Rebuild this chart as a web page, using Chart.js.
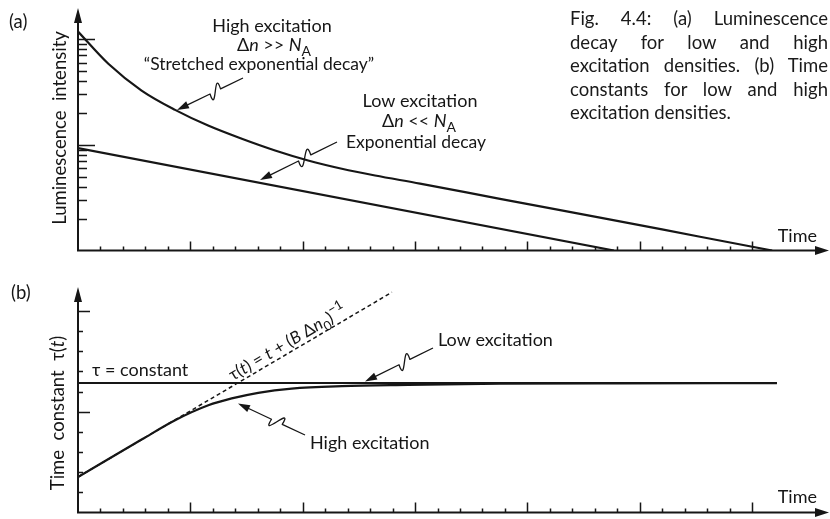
<!DOCTYPE html>
<html>
<head>
<meta charset="utf-8">
<script src="https://cdn.jsdelivr.net/npm/chart.js@4.4.1/dist/chart.umd.min.js"></script>
<style>
  html, body { margin: 0; padding: 0; background: #fff; }
  #fig { position: relative; width: 830px; height: 519px; overflow: hidden;
         font-family: Lato, "Open Sans", "DejaVu Sans", sans-serif; color: #1a1a1a; }
  #panelA { position: absolute; left: 0; top: 0; }
  #panelB { position: absolute; left: 0; top: 260px; }
  #caption { position: absolute; left: 570px; top: 7px; width: 258px;
             font-size: 18.5px; line-height: 23.5px; }
  #caption div { text-align: justify; text-align-last: justify; white-space: nowrap; }
  #caption div.last { text-align-last: left; }
</style>
</head>
<body>
<div id="fig">
  <canvas id="panelA" width="830" height="260"></canvas>
  <canvas id="panelB" width="830" height="259"></canvas>
  <div id="caption">
    <div>Fig. 4.4: (a) Luminescence</div>
    <div>decay for low and high</div>
    <div>excitation densities. (b) Time</div>
    <div>constants for low and high</div>
    <div class="last">excitation densities.</div>
  </div>
</div>
<script>
// ---- time axis (shared by both panels) ----
const timeTicks = [1, 2, 3, 4, 5, 6, 7, 8, 9, 10, 11, 12, 13, 14, 15,
                   16, 17, 18, 19, 20, 21, 22, 23, 24, 25, 26, 27, 28, 29, 30];
const timeMajorTicks = [5, 10, 15, 20, 25, 30];
const timeMax = 33.42;

// ---- (a) luminescence intensity, log axis ----
const intensityTicks = [2, 3, 4, 5, 6, 7, 8, 9, 10, 20, 30, 40, 50, 60, 70, 80, 90, 100];
const intensityMajorTicks = [10, 100];
const intensityMin = 1;
const intensityMax = 197;

const highExcTime      = [0, 1.35, 2.83, 4.32, 5.79, 7.29, 8.77, 10.24, 11.74, 13.22, 15.22, 18.78, 23.23, 27.68, 30.89];
const highExcIntensity = [118, 58.4, 32.6, 21.4, 15.2, 11.4, 8.83, 7.10, 5.93, 5.12, 4.3, 3.08, 2.05, 1.35, 1.0];

const lowExcTime      = [0, 23.85];
const lowExcIntensity = [9.3, 1.0];

// ---- (b) time constant, linear axis ----
const tauTicks = [1, 2, 3, 4, 5, 6, 7, 8, 9, 10];
const tauMajorTicks = [5, 10];
const tauMax = 11.19;

const tauHighTime  = [0, 2.83, 4.32, 5.80, 6.84, 8.02, 9.51, 11.74, 14.69, 18.8, 24.0, 31.1];
const tauHighValue = [1.76, 3.62, 4.58, 5.32, 5.66, 5.94, 6.15, 6.27, 6.33, 6.39, 6.41, 6.42];

const tauConstTime  = [0, 31.1];
const tauConstValue = [6.42, 6.42];

const tauLinearTime  = [0, 13.97];
const tauLinearValue = [1.76, 10.93];

// ---- drawing helpers ----
const INK = '#161616';
const FONT = 'Lato, "Open Sans", "DejaVu Sans", sans-serif';

const zip = (xs, ys) => xs.map((x, i) => ({ x, y: ys[i] }));

function fontFor(s, size) {
  return (s === 'i' ? 'italic ' : '') +
    ((s === 'sub' || s === 'sup') ? Math.round(size * 0.75) : size) + 'px ' + FONT;
}

function richWidth(ctx, parts, size) {
  let w = 0;
  for (const [t, s] of parts) { ctx.font = fontFor(s, size); w += ctx.measureText(t).width; }
  return w;
}

function richText(ctx, parts, x, y, align, size) {
  const w = richWidth(ctx, parts, size);
  let cx = align === 'center' ? x - w / 2 : align === 'right' ? x - w : x;
  ctx.textAlign = 'left';
  ctx.textBaseline = 'alphabetic';
  for (const [t, s] of parts) {
    ctx.font = fontFor(s, size);
    const dy = s === 'sub' ? size * 0.28 : s === 'sup' ? -size * 0.45 : 0;
    ctx.fillText(t, cx, y + dy);
    cx += ctx.measureText(t).width;
  }
}

function arrowHead(ctx, tx, ty, ux, uy, len, half) {
  const nx = -uy, ny = ux;
  ctx.beginPath();
  ctx.moveTo(tx, ty);
  ctx.lineTo(tx - ux * len + nx * half, ty - uy * len + ny * half);
  ctx.lineTo(tx - ux * len - nx * half, ty - uy * len - ny * half);
  ctx.closePath();
  ctx.fill();
}

// pointer line with an S-shaped kink, ending in an arrowhead
function squiggle(ctx, sx, sy, ex, ey) {
  const dx = ex - sx, dy = ey - sy, L = Math.hypot(dx, dy);
  const ux = dx / L, uy = dy / L, nx = -uy, ny = ux;
  const ax = sx + dx * 0.34, ay = sy + dy * 0.34;
  const bx = sx + dx * 0.50, by = sy + dy * 0.50;
  const h = 23;
  ctx.beginPath();
  ctx.moveTo(sx, sy);
  ctx.lineTo(ax, ay);
  ctx.bezierCurveTo(ax + nx * h - ux * 3, ay + ny * h - uy * 3,
                    bx - nx * h + ux * 3, by - ny * h + uy * 3, bx, by);
  ctx.lineTo(ex - ux * 10, ey - uy * 10);
  ctx.lineWidth = 1.3;
  ctx.lineJoin = 'round';
  ctx.stroke();
  arrowHead(ctx, ex, ey, ux, uy, 12, 3.8);
}

function drawFrame(chart, yTicks, yMajor, yLen, xLen) {
  const { ctx, chartArea: a, scales: { x, y } } = chart;
  ctx.save();
  ctx.strokeStyle = INK;
  ctx.fillStyle = INK;
  ctx.lineCap = 'butt';
  // axis lines with arrowheads
  ctx.lineWidth = 2;
  ctx.beginPath();
  ctx.moveTo(a.left, a.bottom + 1);
  ctx.lineTo(a.left, a.top + 12);
  ctx.moveTo(a.left - 1, a.bottom);
  ctx.lineTo(a.right - 11, a.bottom);
  ctx.stroke();
  arrowHead(ctx, a.left, a.top, 0, -1, 15, 4);
  arrowHead(ctx, a.right, a.bottom, 1, 0, 14, 4.5);
  // inward ticks
  ctx.lineWidth = 1.5;
  ctx.beginPath();
  for (const v of timeTicks) {
    const px = Math.round(x.getPixelForValue(v)) + 0.5;
    const len = timeMajorTicks.includes(v) ? xLen[0] : xLen[1];
    ctx.moveTo(px, a.bottom);
    ctx.lineTo(px, a.bottom - len);
  }
  for (const v of yTicks) {
    const py = Math.round(y.getPixelForValue(v)) + 0.5;
    const len = yMajor.includes(v) ? yLen[0] : yLen[1];
    ctx.moveTo(a.left, py);
    ctx.lineTo(a.left + len, py);
  }
  ctx.stroke();
  ctx.restore();
}

const lineStyle = {
  borderColor: INK, borderWidth: 2.2, pointRadius: 0, fill: false,
  cubicInterpolationMode: 'monotone'
};

const commonOptions = (yScale, padding) => ({
  responsive: false,
  devicePixelRatio: 1,
  animation: false,
  events: [],
  layout: { padding },
  plugins: { legend: { display: false }, tooltip: { enabled: false } },
  scales: {
    x: { type: 'linear', min: 0, max: timeMax, display: false },
    y: Object.assign({ display: false }, yScale)
  }
});

// ---- panel (a): luminescence decay ----
new Chart(document.getElementById('panelA'), {
  type: 'line',
  data: {
    datasets: [
      Object.assign({ label: 'High excitation', data: zip(highExcTime, highExcIntensity) }, lineStyle),
      Object.assign({ label: 'Low excitation', data: zip(lowExcTime, lowExcIntensity) }, lineStyle)
    ]
  },
  options: commonOptions({ type: 'logarithmic', min: intensityMin, max: intensityMax },
                         { left: 78, right: 1, top: 8, bottom: 9.5 }),
  plugins: [{
    id: 'panelAFrame',
    afterDraw(chart) {
      const ctx = chart.ctx;
      drawFrame(chart, intensityTicks, intensityMajorTicks, [17, 9], [9, 4]);
      ctx.save();
      ctx.fillStyle = INK;
      ctx.strokeStyle = INK;
      richText(ctx, [['(a)', '']], 9, 28, 'left', 18.5);
      // axis titles
      ctx.save();
      ctx.translate(66, 128);
      ctx.rotate(-Math.PI / 2);
      richText(ctx, [['Luminescence  intensity', '']], 0, 0, 'center', 18.5);
      ctx.restore();
      richText(ctx, [['Time', '']], 817, 242, 'right', 18);
      // annotations
      richText(ctx, [['High excitation', '']], 272, 32, 'center', 18);
      richText(ctx, [['Δ', ''], ['n', 'i'], [' >> ', ''], ['N', 'i'], ['A', 'sub']], 274, 51, 'center', 18);
      richText(ctx, [['“Stretched exponential decay”', '']], 259, 70, 'center', 17.5);
      squiggle(ctx, 243, 78, 177, 110);
      richText(ctx, [['Low excitation', '']], 420, 107, 'center', 18);
      richText(ctx, [['Δ', ''], ['n', 'i'], [' << ', ''], ['N', 'i'], ['A', 'sub']], 419, 127, 'center', 18);
      richText(ctx, [['Exponential decay', '']], 416, 148, 'center', 17.5);
      squiggle(ctx, 337, 142, 260, 180);
      ctx.restore();
    }
  }]
});

// ---- panel (b): effective time constant ----
new Chart(document.getElementById('panelB'), {
  type: 'line',
  data: {
    datasets: [
      Object.assign({ label: 'High excitation', data: zip(tauHighTime, tauHighValue) }, lineStyle),
      Object.assign({ label: 'Low excitation', data: zip(tauConstTime, tauConstValue) }, lineStyle, { borderWidth: 2 }),
      Object.assign({ label: 'Linear growth', data: zip(tauLinearTime, tauLinearValue) }, lineStyle,
                    { borderWidth: 1.5, borderDash: [4, 3] })
    ]
  },
  options: commonOptions({ type: 'linear', min: 0, max: tauMax },
                         { left: 78, right: 1, top: 27, bottom: 6.5 }),
  plugins: [{
    id: 'panelBFrame',
    afterDraw(chart) {
      const ctx = chart.ctx;
      const { x, y } = chart.scales;
      drawFrame(chart, tauTicks, tauMajorTicks, [12, 5], [10, 4]);
      ctx.save();
      ctx.fillStyle = INK;
      ctx.strokeStyle = INK;
      richText(ctx, [['(b)', '']], 11, 39, 'left', 18.5);
      ctx.save();
      ctx.translate(64, 153);
      ctx.rotate(-Math.PI / 2);
      richText(ctx, [['Time  constant  τ(', ''], ['t', 'i'], [')', '']], 0, 0, 'center', 18.5);
      ctx.restore();
      richText(ctx, [['Time', '']], 817, 243, 'right', 18);
      richText(ctx, [['τ = constant', '']], 92, 116, 'left', 18);
      richText(ctx, [['Low excitation', '']], 438, 86, 'left', 18);
      squiggle(ctx, 433, 88, 365, 121.5);
      richText(ctx, [['High excitation', '']], 310, 189, 'left', 18);
      squiggle(ctx, 305, 175, 238, 143.5);
      // label along the dashed asymptote, set in a compact width
      const x0 = x.getPixelForValue(tauLinearTime[0]), y0 = y.getPixelForValue(tauLinearValue[0]);
      const x1 = x.getPixelForValue(tauLinearTime[1]), y1 = y.getPixelForValue(tauLinearValue[1]);
      const eq = [['τ(', ''], ['t', 'i'], [') = ', ''], ['t', 'i'], [' + (', ''],
                  ['B', 'i'], [' Δ', ''], ['n', 'i'], ['0', 'sub'], [')', ''], ['−1', 'sup']];
      const eqSize = 17;
      const eqWidth = richWidth(ctx, eq, eqSize);
      ctx.save();
      ctx.translate(233, 121);
      ctx.rotate(Math.atan2(y1 - y0, x1 - x0));
      ctx.scale(Math.min(1, 165 / eqWidth), 1);
      richText(ctx, eq, 0, 0, 'left', eqSize);
      ctx.restore();
      ctx.restore();
    }
  }]
});
</script>
</body>
</html>
